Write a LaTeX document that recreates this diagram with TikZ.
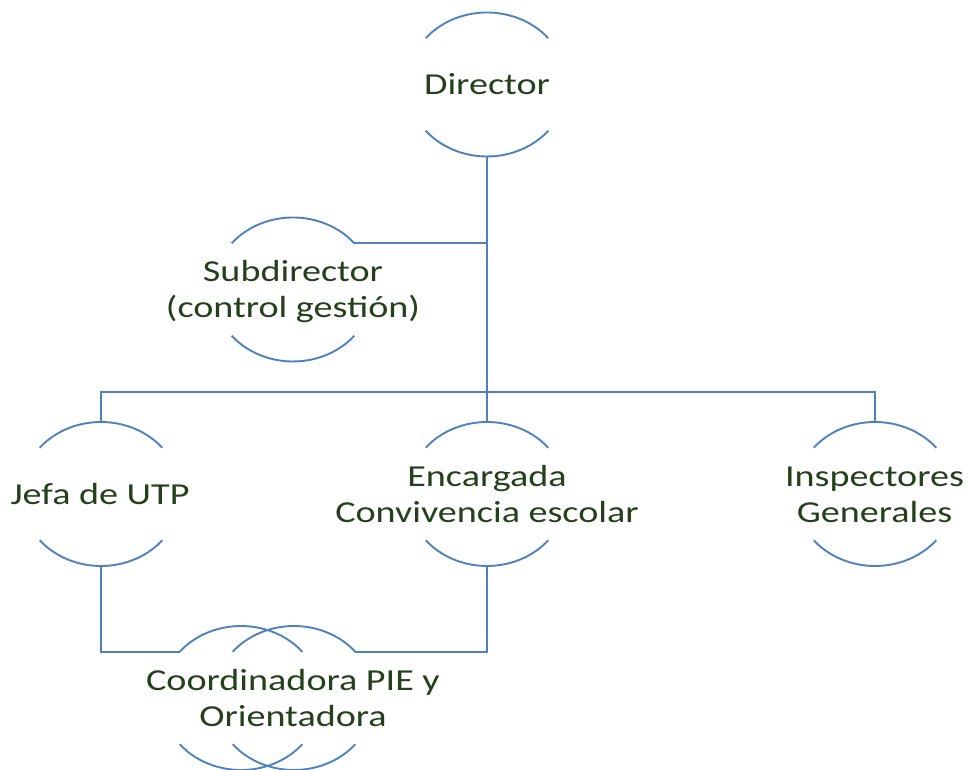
\documentclass[tikz,border=0pt]{standalone}
\usepackage{fontspec}
\setmainfont{Carlito}[FakeStretch=1.25]
\usetikzlibrary{shapes.geometric}
\definecolor{linecol}{RGB}{79,129,189}
\definecolor{txtcol}{RGB}{36,64,28}
\tikzset{
  ring/.style={ellipse, draw=none, minimum width=160pt, minimum height=144pt, inner sep=0pt},
  arcline/.style={draw=linecol, line width=1.9pt},
  conn/.style={draw=linecol, line width=1.9pt},
  lbl/.style={anchor=base, inner sep=0pt, text=txtcol, font=\fontsize{30.5}{36}\selectfont}
}
\newcommand\ringarcs[1]{%
  \draw[arcline] ([shift={(40:80pt and 72pt)}]#1.center) arc[start angle=40,end angle=140,x radius=80pt,y radius=72pt];
  \draw[arcline] ([shift={(220:80pt and 72pt)}]#1.center) arc[start angle=220,end angle=320,x radius=80pt,y radius=72pt];}
\begin{document}
\begin{tikzpicture}[x=1pt,y=1pt]
\useasboundingbox (0,0) rectangle (968,770);
% rings
\node[ring] (dir) at (487,685.5) {};
\node[ring] (sub) at (293,480.5) {};
\node[ring] (jefa) at (101,276) {};
\node[ring] (enc) at (487,276) {};
\node[ring] (insp) at (875,276) {};
\node[ring] (cl) at (241,72) {};
\node[ring] (cr) at (294,72) {};
\ringarcs{dir}\ringarcs{sub}\ringarcs{jefa}\ringarcs{enc}\ringarcs{insp}\ringarcs{cl}\ringarcs{cr}
% labels
\node[lbl] (dirt) at (487,675) {Director};
\node[lbl] (subt) at (293,488) {\begin{tabular}[t]{@{}c@{}}Subdirector\\(control gesti\'on)\end{tabular}};
\node[lbl] (jefat) at (100,265) {Jefa de UTP};
\node[lbl] (enct) at (487,283.3) {\begin{tabular}[t]{@{}c@{}}Encargada\\Convivencia escolar\end{tabular}};
\node[lbl] (inspt) at (874.5,283.3) {\begin{tabular}[t]{@{}c@{}}Inspectores\\Generales\end{tabular}};
\node[lbl] (coordt) at (293,79.3) {\begin{tabular}[t]{@{}c@{}}Coordinadora PIE y\\Orientadora\end{tabular}};
% connectors
\coordinate (bus) at (487,378);
\coordinate (subend) at ([shift={(40:80pt and 72pt)}]sub.center);
\coordinate (clend) at ([shift={(140:80pt and 72pt)}]cl.center);
\coordinate (crend) at ([shift={(40:80pt and 72pt)}]cr.center);
\draw[conn] (dir.south) -- (enc.north);
\draw[conn] (subend) -- (subend -| dir.south);
\draw[conn] (jefa.north) |- (bus) -| (insp.north);
\draw[conn] (jefa.south) |- (clend);
\draw[conn] (enc.south) |- (crend);
\end{tikzpicture}
\end{document}
